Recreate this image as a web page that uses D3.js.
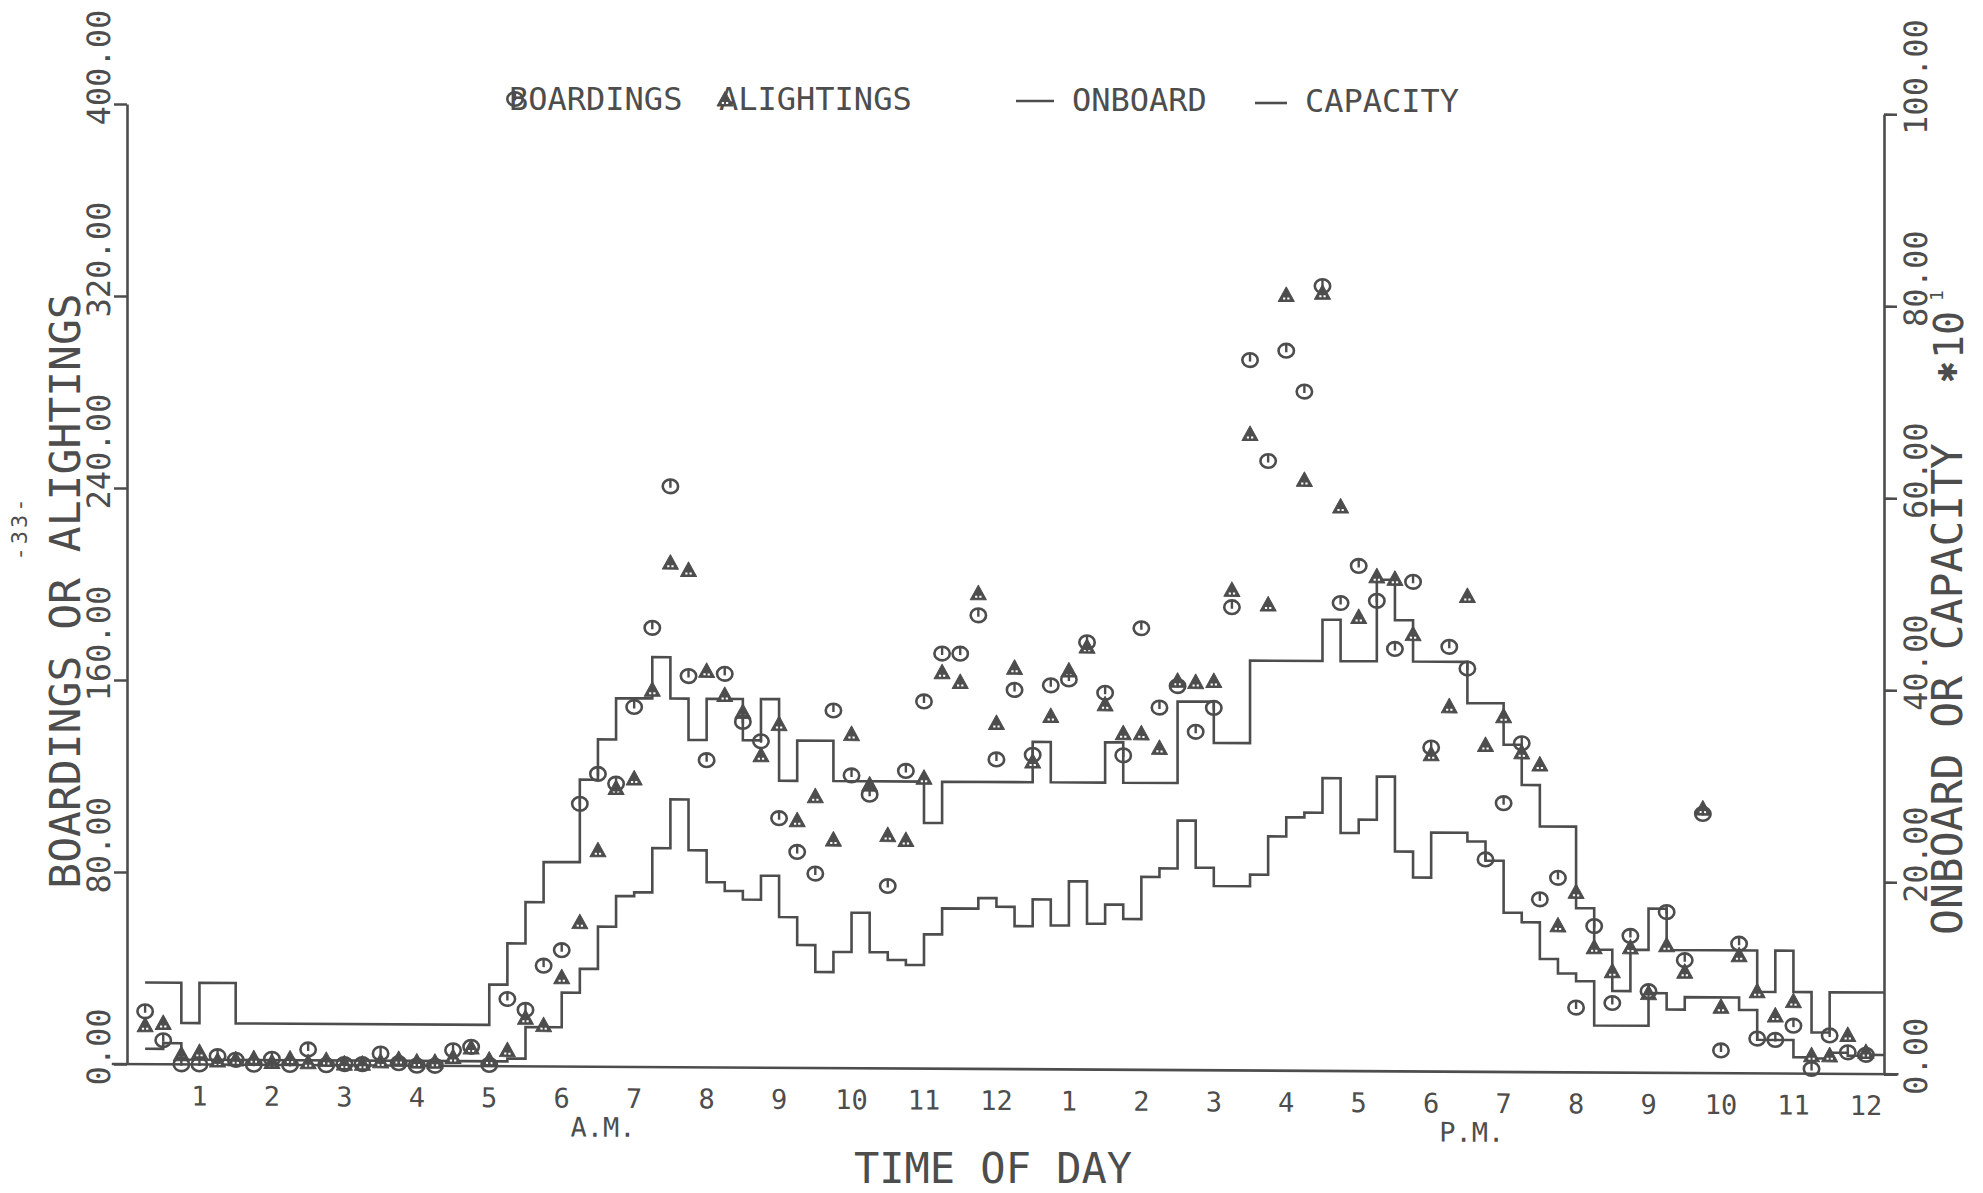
<!DOCTYPE html>
<html>
<head>
<meta charset="utf-8">
<script src="https://cdn.jsdelivr.net/npm/d3@7"></script>
<style>
  html, body { margin: 0; padding: 0; background: #fff; }
  svg { display: block; }
  text { font-family: "DejaVu Sans Mono", monospace; fill: #4d4d4d; }
</style>
</head>
<body>
<svg id="chart"></svg>
<script>
// Route profile by quarter hour: boardings / alightings (left axis),
// onboard load and capacity in tens (right axis)

const hourTicks = [1, 2, 3, 4, 5, 6, 7, 8, 9, 10, 11, 12, 13, 14, 15, 16, 17, 18, 19, 20, 21, 22, 23, 24];
const hourLabels = ["1", "2", "3", "4", "5", "6", "7", "8", "9", "10", "11", "12",
                    "1", "2", "3", "4", "5", "6", "7", "8", "9", "10", "11", "12"];
const leftTicks = [0, 80, 160, 240, 320, 400];
const rightTicks = [0, 20, 40, 60, 80, 100];

// one marker per quarter hour, 0:15 .. 24:00
const markerHours = d3.range(1, 97).map(k => k / 4);

const boardings = [22, 10, 0, 0, 3.5, 2, 0, 2.5, 0, 6.5,
  0, 0.5, 0.5, 5, 1, 0, 0, 6.5, 8, 0.5,
  28, 23.5, 42, 48.5, 109.5, 122, 118, 150, 183, 242,
  163, 128, 164, 144, 136, 104, 90, 81, 149, 122,
  114, 76, 124, 153, 173, 173, 189, 129, 158, 131,
  160, 162.5, 178, 157, 131, 184, 151, 160, 141, 151,
  193, 296, 254, 300, 283, 327, 195, 210.5, 196, 176,
  204, 135, 177, 168, 88.5, 112, 137, 72, 81, 27,
  61, 29, 57, 34, 67, 47, 108, 9.5, 54, 14.5,
  14, 20, 2, 16, 9, 8];

const alightings = [16, 17, 4, 5, 1.5, 2, 2.5, 1, 2.5, 1,
  2, 0.5, 0.5, 1.5, 2.5, 1.5, 1.5, 3.5, 7.5, 2.5,
  6.5, 20, 17, 37, 60, 90, 116, 120, 157, 210,
  207, 165, 155, 148, 130, 143, 103, 113, 95, 139,
  118, 97, 95, 121, 165, 161, 198, 144, 167, 128,
  147, 166, 176, 152, 140, 140, 134, 162, 161.5, 162,
  200, 265, 194, 323, 246, 324, 235, 189, 206, 205,
  182, 132, 152, 198, 136, 148, 133, 128, 61, 75,
  52, 42, 52, 33, 53, 42, 110, 27.5, 49, 34,
  24, 30, 7.5, 7.5, 16, 9];

// step series: hour where each level starts, level (x10)
const capacityStart = [0.25, 0.75, 1, 1.5, 5, 5.25, 5.5, 5.75, 6.25, 6.5,
  6.75, 7.25, 7.5, 7.75, 8, 8.5, 8.75, 9, 9.25, 9.75,
  11, 11.25, 12.5, 12.75, 13.5, 13.75, 14.5, 15, 15.5, 16.5,
  16.75, 17.25, 17.5, 17.75, 18.5, 19, 19.25, 19.5, 20, 20.25,
  20.5, 20.75, 21, 21.25, 22.5, 22.75, 23, 23.25, 23.5];
const capacity = [8.5, 4.3, 8.5, 4.3, 8.5, 12.8, 17.1, 21.3, 29.9, 34.1,
  38.4, 42.7, 38.4, 34.1, 38.4, 34.1, 38.4, 29.9, 34.1, 29.9,
  25.6, 29.9, 34.1, 29.9, 34.1, 29.9, 38.4, 34.1, 42.7, 47.0,
  42.7, 51.2, 47.0, 42.7, 38.4, 34.1, 29.9, 25.6, 17.1, 12.8,
  8.5, 12.8, 17.1, 12.8, 8.5, 12.8, 8.5, 4.3, 8.5];

const onboardStart = [0.25, 0.5, 0.75, 5.25, 5.5, 6, 6.25, 6.5, 6.75, 7,
  7.25, 7.5, 7.75, 8, 8.25, 8.5, 8.75, 9, 9.25, 9.5,
  9.75, 10, 10.25, 10.5, 10.75, 11, 11.25, 11.75, 12, 12.25,
  12.5, 12.75, 13, 13.25, 13.5, 13.75, 14, 14.25, 14.5, 14.75,
  15, 15.5, 15.75, 16, 16.25, 16.5, 16.75, 17, 17.25, 17.5,
  17.75, 18, 18.5, 18.75, 19, 19.25, 19.5, 19.75, 20, 20.25,
  21, 21.25, 21.5, 22.25, 22.5, 23, 23.25, 23.5, 23.75, 24];
const onboard = [1.6, 2.2, 0.5, 0.8, 4.1, 7.7, 10.2, 14.6, 17.8, 18.2,
  22.8, 27.9, 22.6, 19.3, 18.4, 17.5, 20.0, 15.7, 12.8, 10.0,
  12.1, 16.2, 12.1, 11.3, 10.8, 14.0, 16.7, 17.8, 16.9, 14.9,
  17.7, 15.0, 19.6, 15.2, 17.2, 15.7, 20.1, 21.0, 26.0, 21.1,
  19.2, 20.4, 24.4, 26.4, 26.9, 30.5, 24.8, 26.2, 30.7, 22.9,
  20.2, 24.9, 24.0, 22.0, 16.6, 15.6, 11.8, 10.3, 9.5, 4.9,
  8.3, 6.6, 7.9, 6.6, 3.5, 1.7, 1.6, 2.2, 1.9, 2.0];

const dayEnd = 24.25;
const ink = "#4d4d4d";

const svg = d3.select("#chart").attr("width", 1983).attr("height", 1193);

const x = d3.scaleLinear().domain([0, dayEnd]).range([127, 1884]);
const yL = d3.scaleLinear().domain([0, 400]).range([1064, 104]);
const yR = d3.scaleLinear().domain([0, 100]).range([1064, 104]);

// the scanned sheet is a little crooked, right side sits lower
const plot = svg.append("g").attr("transform", "translate(0,-0.7) skewY(0.33)");

// left axis
const axL = plot.append("g")
  .attr("transform", `translate(${x(0)},0)`)
  .call(d3.axisLeft(yL).tickValues(leftTicks).tickSize(13).tickSizeOuter(0).tickFormat(d3.format(".2f")));
axL.selectAll(".tick text")
  .attr("transform", "rotate(-90)")
  .attr("x", -21).attr("y", -17).attr("dy", null)
  .attr("text-anchor", "start")
  .style("font-size", "32px");

// right axis
const axR = plot.append("g")
  .attr("transform", `translate(${x(dayEnd)},0)`)
  .call(d3.axisRight(yR).tickValues(rightTicks).tickSize(13).tickSizeOuter(0).tickFormat(d3.format(".2f")));
axR.selectAll(".tick text")
  .attr("transform", "rotate(-90)")
  .attr("x", -20).attr("y", 43).attr("dy", null)
  .attr("text-anchor", "start")
  .style("font-size", "32px");

[axL, axR].forEach(a => {
  a.select(".domain").attr("stroke", ink).attr("stroke-width", 2.6);
  a.selectAll(".tick line").attr("stroke", ink).attr("stroke-width", 2.6);
});

// base line, runs out past both axes like the zero ticks
plot.append("line")
  .attr("x1", x(-0.21)).attr("x2", x(dayEnd + 0.2))
  .attr("y1", yL(0)).attr("y2", yL(0))
  .attr("stroke", ink).attr("stroke-width", 2.6);

// hour labels
plot.selectAll(".hour")
  .data(hourTicks)
  .enter().append("text")
  .attr("class", "hour")
  .attr("x", d => x(d))
  .attr("y", yL(0) + 41)
  .attr("text-anchor", "middle")
  .style("font-size", "27px")
  .text((d, i) => hourLabels[i]);

plot.append("text").attr("x", x(6.57)).attr("y", 1134)
  .attr("text-anchor", "middle").style("font-size", "27px").text("A.M.");
plot.append("text").attr("x", x(18.56)).attr("y", 1134)
  .attr("text-anchor", "middle").style("font-size", "27px").text("P.M.");

// step lines
function steps(starts, vals) {
  const pts = starts.map((s, i) => [s, vals[i]]);
  pts.push([dayEnd, vals[vals.length - 1]]);
  return pts;
}
const stepLine = d3.line()
  .x(d => x(d[0]))
  .y(d => yR(d[1]))
  .curve(d3.curveStepAfter);

plot.append("path")
  .datum(steps(capacityStart, capacity))
  .attr("d", stepLine)
  .attr("fill", "none").attr("stroke", ink).attr("stroke-width", 2.6);

plot.append("path")
  .datum(steps(onboardStart, onboard))
  .attr("d", stepLine)
  .attr("fill", "none").attr("stroke", ink).attr("stroke-width", 2.6);

// marker shapes
function drawTriangle(g) {
  g.append("path").attr("d", "M0,-8.5 L8,6 L-8,6 Z").attr("fill", ink)
    .attr("stroke", ink).attr("stroke-width", 1).attr("stroke-linejoin", "round");
  g.append("rect").attr("x", -3.2).attr("y", 2).attr("width", 2.2).attr("height", 2).attr("fill", "#fff");
  g.append("rect").attr("x", 1).attr("y", 2).attr("width", 2.2).attr("height", 2).attr("fill", "#fff");
}
function drawOval(g) {
  g.append("ellipse").attr("rx", 7.7).attr("ry", 6.8)
    .attr("fill", "none").attr("stroke", ink).attr("stroke-width", 2.6);
  g.append("line").attr("x1", 0).attr("x2", 0).attr("y1", -6.8).attr("y2", 1.5)
    .attr("stroke", ink).attr("stroke-width", 2.4);
}

plot.selectAll(".alight")
  .data(alightings)
  .enter().append("g")
  .attr("class", "alight")
  .attr("transform", (d, i) => `translate(${x(markerHours[i])},${yL(d)})`)
  .each(function () { drawTriangle(d3.select(this)); });

plot.selectAll(".board")
  .data(boardings)
  .enter().append("g")
  .attr("class", "board")
  .attr("transform", (d, i) => `translate(${x(markerHours[i])},${yL(d)})`)
  .each(function () { drawOval(d3.select(this)); });

// titles
svg.append("text")
  .attr("transform", "translate(80,591) rotate(-90)")
  .attr("text-anchor", "middle")
  .style("font-size", "43px")
  .text("BOARDINGS OR ALIGHTINGS");

svg.append("text")
  .attr("transform", "translate(1962,689) rotate(-90)")
  .attr("text-anchor", "middle")
  .style("font-size", "43px")
  .text("ONBOARD OR CAPACITY");

svg.append("text")
  .attr("transform", "translate(1948,372) rotate(-90)")
  .attr("text-anchor", "middle")
  .attr("dominant-baseline", "central")
  .style("font-family", "DejaVu Sans")
  .style("font-size", "26px")
  .text("\u2731");

svg.append("text")
  .attr("transform", "translate(1963,359) rotate(-90)")
  .attr("text-anchor", "start")
  .style("font-size", "40px")
  .text("10");

svg.append("text")
  .attr("transform", "translate(1943,301) rotate(-90)")
  .attr("text-anchor", "start")
  .style("font-size", "18px")
  .text("1");

svg.append("text")
  .attr("x", 993).attr("y", 1183)
  .attr("text-anchor", "middle")
  .style("font-size", "42px")
  .text("TIME OF DAY");

svg.append("text")
  .attr("transform", "translate(27,528) rotate(-90)")
  .attr("text-anchor", "middle")
  .style("font-size", "22px")
  .style("letter-spacing", "3px")
  .text("-33-");

// legend
const legend = svg.append("g");
legend.append("text").attr("x", 509).attr("y", 110).style("font-size", "32px").text("BOARDINGS");
drawOval(legend.append("g").attr("transform", "translate(515,99)"));
legend.append("text").attr("x", 719).attr("y", 110).style("font-size", "32px").text("ALIGHTINGS");
drawTriangle(legend.append("g").attr("transform", "translate(725,100)"));

legend.append("line").attr("x1", 1016).attr("x2", 1054).attr("y1", 101).attr("y2", 101)
  .attr("stroke", ink).attr("stroke-width", 2.6);
legend.append("text").attr("x", 1072).attr("y", 111).style("font-size", "32px").text("ONBOARD");

legend.append("line").attr("x1", 1255).attr("x2", 1287).attr("y1", 103).attr("y2", 103)
  .attr("stroke", ink).attr("stroke-width", 2.6);
legend.append("text").attr("x", 1305).attr("y", 112).style("font-size", "32px").text("CAPACITY");
</script>
</body>
</html>
